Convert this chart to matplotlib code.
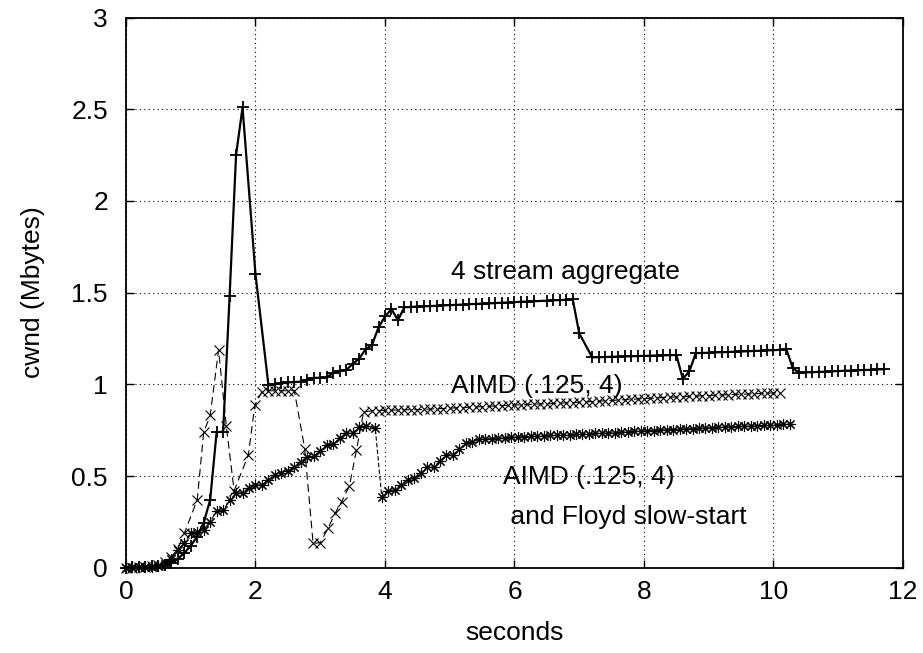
import numpy as np
import matplotlib
matplotlib.use("Agg")
import matplotlib.pyplot as plt

# 4 stream aggregate (solid line, + markers)
agg_t = [0.0, 0.1, 0.2, 0.3, 0.4, 0.5, 0.6, 0.7, 0.8, 0.9, 1.0, 1.1, 1.2, 1.3, 1.4, 1.5, 1.6, 1.7, 1.8, 2.0,
         2.2, 2.3, 2.4, 2.5, 2.6, 2.7, 2.8, 2.9, 3.0, 3.1, 3.2, 3.3, 3.4, 3.5, 3.6, 3.7, 3.8, 3.9, 4.0, 4.1,
         4.2, 4.3, 4.4, 4.5, 4.6, 4.7, 4.8, 4.9, 5.0, 5.1, 5.2, 5.3, 5.4, 5.5, 5.6, 5.7, 5.8, 5.9, 6.0, 6.1,
         6.2, 6.3, 6.5, 6.6, 6.7, 6.8, 6.9, 7.0, 7.2, 7.3, 7.4, 7.5, 7.6, 7.7, 7.8, 7.9, 8.0, 8.1, 8.2, 8.3,
         8.4, 8.5, 8.6, 8.7, 8.8, 8.9, 9.0, 9.1, 9.2, 9.3, 9.4, 9.5, 9.6, 9.7, 9.8, 9.9, 10.0, 10.1, 10.2,
         10.3, 10.4, 10.5, 10.6, 10.7, 10.8, 10.9, 11.0, 11.1, 11.2, 11.3, 11.4, 11.5, 11.6, 11.7]
agg_v = [0.000, 0.002, 0.003, 0.005, 0.007, 0.010, 0.016, 0.028, 0.048, 0.080, 0.120, 0.170, 0.245, 0.370,
         0.740, 0.740, 1.480, 2.250, 2.510, 1.600,
         0.995, 1.000, 1.005, 1.010, 1.012, 1.015, 1.025, 1.035, 1.036, 1.040, 1.060, 1.074, 1.078, 1.110,
         1.140, 1.190, 1.215, 1.310, 1.370, 1.410,
         1.350, 1.420, 1.422, 1.424, 1.425, 1.427, 1.428, 1.430, 1.432, 1.433, 1.435, 1.437, 1.438, 1.440,
         1.441, 1.443, 1.445, 1.446, 1.448, 1.450,
         1.451, 1.453, 1.456, 1.458, 1.459, 1.461, 1.463, 1.278, 1.147, 1.148, 1.149, 1.150, 1.151, 1.152,
         1.153, 1.154, 1.155, 1.156, 1.157, 1.158,
         1.159, 1.160, 1.030, 1.070, 1.170, 1.171, 1.172, 1.174, 1.175, 1.176, 1.178, 1.179, 1.180, 1.182,
         1.183, 1.185, 1.186, 1.188, 1.190,
         1.087, 1.063, 1.065, 1.066, 1.068, 1.069, 1.071, 1.072, 1.074, 1.075, 1.077, 1.078, 1.079, 1.081, 1.082]

# AIMD (.125, 4) (dashed line, x markers)
aimd_t = [0.0, 0.1, 0.2, 0.3, 0.4, 0.5, 0.6, 0.7, 0.8, 0.9, 1.1, 1.2, 1.3, 1.43, 1.55, 1.67, 1.89, 1.99,
          2.1, 2.2, 2.3, 2.4, 2.5, 2.6, 2.76, 2.89, 3.0, 3.12, 3.23, 3.33, 3.45, 3.56, 3.67,
          3.8, 3.9, 4.0, 4.1, 4.2, 4.3, 4.4, 4.5, 4.6, 4.7, 4.8, 4.9, 5.0, 5.1, 5.2, 5.3, 5.4, 5.5, 5.6,
          5.7, 5.8, 5.9, 6.0, 6.1, 6.2, 6.3, 6.4, 6.5, 6.6, 6.7, 6.8, 6.9, 7.0, 7.1, 7.2, 7.3, 7.4, 7.5,
          7.6, 7.7, 7.8, 7.9, 8.0, 8.1, 8.2, 8.3, 8.4, 8.5, 8.6, 8.7, 8.8, 8.9, 9.0, 9.1, 9.2, 9.3, 9.4,
          9.5, 9.6, 9.7, 9.8, 9.9, 10.0, 10.1]
aimd_v = [0.000, 0.001, 0.003, 0.005, 0.008, 0.014, 0.030, 0.060, 0.100, 0.187, 0.370, 0.738, 0.830, 1.187,
          0.770, 0.420, 0.615, 0.887,
          0.960, 0.965, 0.965, 0.965, 0.965, 0.966, 0.650, 0.133, 0.136, 0.215, 0.297, 0.360, 0.445, 0.642,
          0.850,
          0.855, 0.857, 0.858, 0.859, 0.860, 0.861, 0.862, 0.862, 0.863, 0.865, 0.867, 0.868, 0.870, 0.872,
          0.873, 0.875, 0.877, 0.878, 0.880,
          0.882, 0.884, 0.885, 0.887, 0.888, 0.890, 0.891, 0.893, 0.894, 0.896, 0.897, 0.899, 0.900, 0.902,
          0.904, 0.906, 0.908, 0.910, 0.912,
          0.914, 0.916, 0.918, 0.920, 0.922, 0.924, 0.926, 0.928, 0.930, 0.931, 0.933, 0.934, 0.936, 0.937,
          0.939, 0.940, 0.942, 0.943, 0.945,
          0.946, 0.947, 0.949, 0.950, 0.952, 0.953, 0.955]

# AIMD (.125, 4) and Floyd slow-start (thin line, * markers)
floyd_t = [0.0, 0.1, 0.2, 0.3, 0.4, 0.5, 0.6, 0.7, 0.8, 0.9, 1.0, 1.1, 1.2, 1.3, 1.4, 1.5, 1.6, 1.7, 1.8,
           1.9, 2.0, 2.1, 2.2, 2.3, 2.4, 2.5, 2.6, 2.7, 2.8, 2.9, 3.0, 3.1, 3.2, 3.3, 3.4, 3.5, 3.6, 3.7,
           3.85, 3.95, 4.05, 4.15, 4.25, 4.35, 4.45, 4.55, 4.65, 4.75, 4.85, 4.95, 5.05, 5.15, 5.25, 5.35,
           5.45, 5.55, 5.65, 5.75, 5.85, 5.95, 6.05, 6.15, 6.25, 6.35, 6.45, 6.55, 6.65, 6.75, 6.85, 6.95,
           7.05, 7.15, 7.25, 7.35, 7.45, 7.55, 7.65, 7.75, 7.85, 7.95, 8.05, 8.15, 8.25, 8.35, 8.45, 8.55,
           8.65, 8.75, 8.85, 8.95, 9.05, 9.15, 9.25, 9.35, 9.45, 9.55, 9.65, 9.75, 9.85, 9.95, 10.05,
           10.15, 10.25]
floyd_v = [0.000, 0.002, 0.003, 0.004, 0.006, 0.009, 0.018, 0.045, 0.097, 0.133, 0.187, 0.196, 0.206, 0.250,
           0.310, 0.312, 0.367, 0.405, 0.410,
           0.433, 0.450, 0.452, 0.478, 0.505, 0.518, 0.530, 0.547, 0.578, 0.605, 0.607, 0.638, 0.670, 0.673,
           0.705, 0.733, 0.735, 0.766, 0.774,
           0.760, 0.387, 0.420, 0.424, 0.450, 0.480, 0.488, 0.515, 0.547, 0.549, 0.583, 0.615, 0.617, 0.645,
           0.678, 0.687,
           0.700, 0.702, 0.704, 0.706, 0.708, 0.711, 0.713, 0.715, 0.716, 0.718, 0.719, 0.721, 0.722, 0.724,
           0.726, 0.727,
           0.729, 0.731, 0.732, 0.734, 0.736, 0.737, 0.739, 0.741, 0.743, 0.745, 0.746, 0.748, 0.750, 0.752,
           0.753, 0.755,
           0.757, 0.758, 0.760, 0.762, 0.763, 0.765, 0.766, 0.768, 0.770, 0.771, 0.773, 0.774, 0.776, 0.778,
           0.780, 0.782, 0.784]

x_ticks = [0, 2, 4, 6, 8, 10, 12]
y_ticks = [0, 0.5, 1, 1.5, 2, 2.5, 3]
y_tick_labels = ['0', '0.5', '1', '1.5', '2', '2.5', '3']

plt.rcParams['font.family'] = ['Liberation Sans', 'DejaVu Sans']
fs = 19

fig = plt.figure(figsize=(9.23, 6.53), dpi=100)
ax = fig.add_axes([0.1365, 0.1306, 0.8418, 0.8426])

ax.plot(agg_t, agg_v, color='black', lw=1.6, marker='+', ms=8, mew=1.3, clip_on=False, zorder=3)
ax.plot(aimd_t, aimd_v, color='black', lw=0.8, ls=(0, (7, 4)), marker='x', ms=7, mew=0.8,
        clip_on=False, zorder=3)
ax.plot(floyd_t, floyd_v, color='black', lw=0.8, ls=(0, (4, 2)), marker=(8, 2, 0), ms=8, mew=0.8,
        clip_on=False, zorder=3)

ax.set_xlim(0, 12)
ax.set_ylim(0, 3)
ax.set_xticks(x_ticks)
ax.set_yticks(y_ticks)
ax.set_yticklabels(y_tick_labels)
ax.tick_params(direction='in', length=6, width=1, top=True, right=True, labelsize=fs)
ax.tick_params(axis='y', pad=13)
ax.tick_params(axis='x', pad=9)
ax.grid(True, color='black', lw=0.8, ls=(0, (1, 3)))
for s in ax.spines.values():
    s.set_linewidth(1.3)

ax.set_xlabel('seconds', fontsize=fs, labelpad=12)
ax.set_ylabel('cwnd (Mbytes)', fontsize=fs, labelpad=19)

# curve labels
ax.text(5.02, 1.61, '4 stream aggregate', fontsize=fs, ha='left', va='center')
ax.text(5.02, 0.99, 'AIMD (.125, 4)', fontsize=fs, ha='left', va='center')
ax.text(5.83, 0.495, 'AIMD (.125, 4)', fontsize=fs, ha='left', va='center')
ax.text(5.83, 0.276, ' and Floyd slow-start', fontsize=fs, ha='left', va='center')

plt.savefig('out.png', dpi=100)
